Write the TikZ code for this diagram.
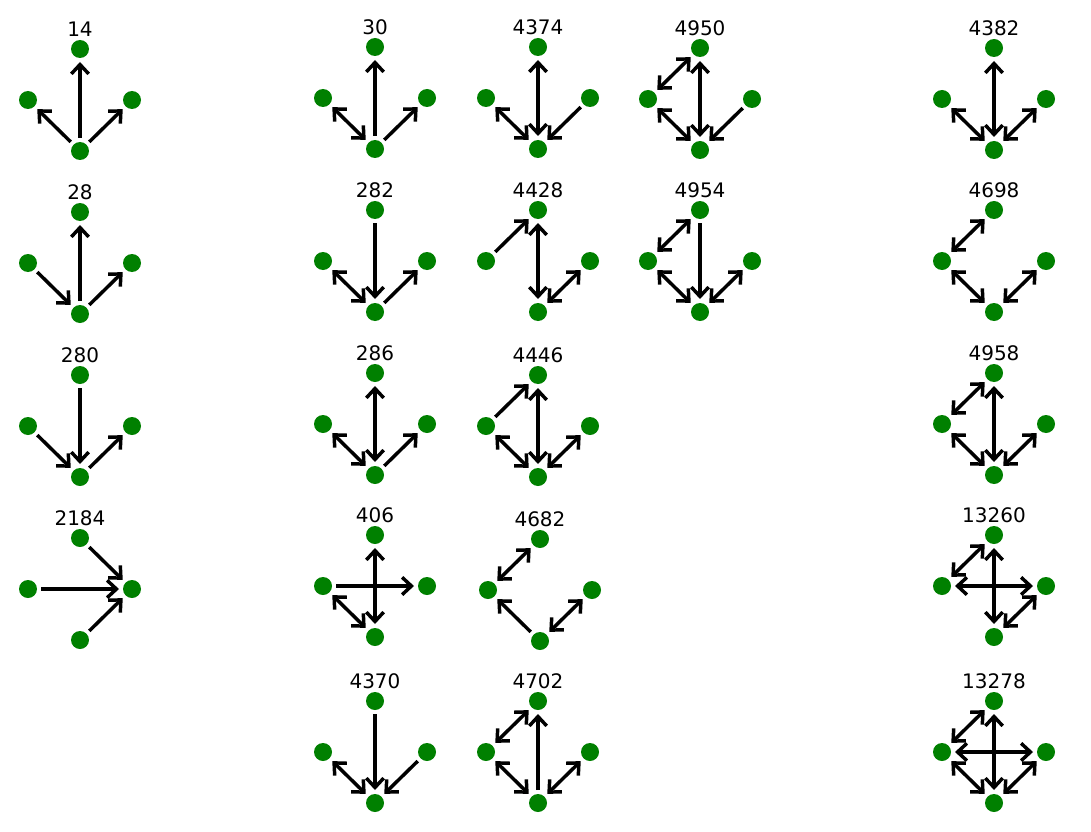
\documentclass[tikz,border=0pt]{standalone}
\usepackage{fontspec}
\setmainfont{DejaVu Sans}
\usetikzlibrary{arrows.meta}
\tikzset{
 dot/.style={circle,fill={rgb,255:red,0;green,128;blue,0},minimum size=13.5pt,inner sep=0pt,outer sep=3pt},
 lbl/.style={font=\fontsize{15}{18}\selectfont,inner sep=0pt},
 ed/.style={line width=2.6pt,-{Straight Barb[length=7pt,width=13pt,line width=2.6pt]}},
 bi/.style={line width=2.6pt,{Straight Barb[length=7pt,width=13pt,line width=2.6pt]}-{Straight Barb[length=7pt,width=13pt,line width=2.6pt]}},
 pl/.style={line width=2.6pt}
}
\newcommand\mkgraph[4]{%
 \node[dot] (#1T) at (#2,#3-51) {};
 \node[dot] (#1L) at (#2-52,#3) {};
 \node[dot] (#1R) at (#2+52,#3) {};
 \node[dot] (#1B) at (#2,#3+51) {};
 \node[lbl] (#1lab) at (#2,#3-71) {#4};}
\begin{document}
\begin{tikzpicture}[x=0.75pt,y=-0.75pt]
\useasboundingbox (0,0) rectangle (1091,831);
% column 1
\mkgraph{a}{80}{100}{14}
\draw[ed] (aB)--(aT); \draw[ed] (aB)--(aL); \draw[ed] (aB)--(aR);
\mkgraph{b}{80}{263}{28}
\draw[ed] (bB)--(bT); \draw[ed] (bL)--(bB); \draw[ed] (bB)--(bR);
\mkgraph{c}{80}{426}{280}
\draw[ed] (cT)--(cB); \draw[ed] (cL)--(cB); \draw[ed] (cB)--(cR);
\mkgraph{d}{80}{589}{2184}
\draw[ed] (dT)--(dR); \draw[ed] (dL)--(dR); \draw[ed] (dB)--(dR);
% column 2
\mkgraph{e}{375}{98}{30}
\draw[ed] (eB)--(eT); \draw[bi] (eL)--(eB); \draw[ed] (eB)--(eR);
\mkgraph{f}{375}{261}{282}
\draw[ed] (fT)--(fB); \draw[bi] (fL)--(fB); \draw[ed] (fB)--(fR);
\mkgraph{g}{375}{424}{286}
\draw[bi] (gT)--(gB); \draw[bi] (gL)--(gB); \draw[ed] (gB)--(gR);
\mkgraph{h}{375}{586}{406}
\draw[ed] (hL)--(hR); \draw[bi] (hT)--(hB); \draw[bi] (hL)--(hB);
\mkgraph{i}{375}{752}{4370}
\draw[ed] (iT)--(iB); \draw[bi] (iL)--(iB); \draw[ed] (iR)--(iB);
% column 3
\mkgraph{j}{538}{98}{4374}
\draw[bi] (jT)--(jB); \draw[bi] (jL)--(jB); \draw[ed] (jR)--(jB);
\mkgraph{k}{538}{261}{4428}
\draw[ed] (kL)--(kT); \draw[bi] (kT)--(kB); \draw[bi] (kB)--(kR);
\mkgraph{l}{538}{426}{4446}
\draw[ed] (lL)--(lT); \draw[bi] (lT)--(lB); \draw[bi] (lL)--(lB); \draw[bi] (lB)--(lR);
\mkgraph{m}{540}{590}{4682}
\draw[bi] (mT)--(mL); \draw[ed] (mB)--(mL); \draw[bi] (mB)--(mR);
\mkgraph{n}{538}{752}{4702}
\draw[bi] (nT)--(nL); \draw[ed] (nB)--(nT); \draw[bi] (nL)--(nB); \draw[bi] (nB)--(nR);
% column 4
\mkgraph{o}{700}{99}{4950}
\draw[bi] (oT)--(oL); \draw[bi] (oT)--(oB); \draw[bi] (oL)--(oB); \draw[ed] (oR)--(oB);
\mkgraph{p}{700}{261}{4954}
\draw[bi] (pT)--(pL); \draw[ed] (pT)--(pB); \draw[bi] (pL)--(pB); \draw[bi] (pB)--(pR);
% column 5
\mkgraph{q}{994}{99}{4382}
\draw[bi] (qT)--(qB); \draw[bi] (qL)--(qB); \draw[bi] (qB)--(qR);
\mkgraph{r}{994}{261}{4698}
\draw[bi] (rT)--(rL); \draw[bi] (rL)--(rB); \draw[bi] (rB)--(rR);
\mkgraph{s}{994}{424}{4958}
\draw[bi] (sT)--(sL); \draw[bi] (sT)--(sB); \draw[bi] (sL)--(sB); \draw[bi] (sB)--(sR);
\mkgraph{t}{994}{586}{13260}
\draw[bi] (tT)--(tL); \draw[bi] (tL)--(tR); \draw[bi] (tT)--(tB); \draw[bi] (tB)--(tR);
\mkgraph{u}{994}{752}{13278}
\draw[bi] (uT)--(uL); \draw[bi] (uL)--(uR); \draw[bi] (uT)--(uB); \draw[bi] (uL)--(uB); \draw[bi] (uB)--(uR);
\end{tikzpicture}
\end{document}
